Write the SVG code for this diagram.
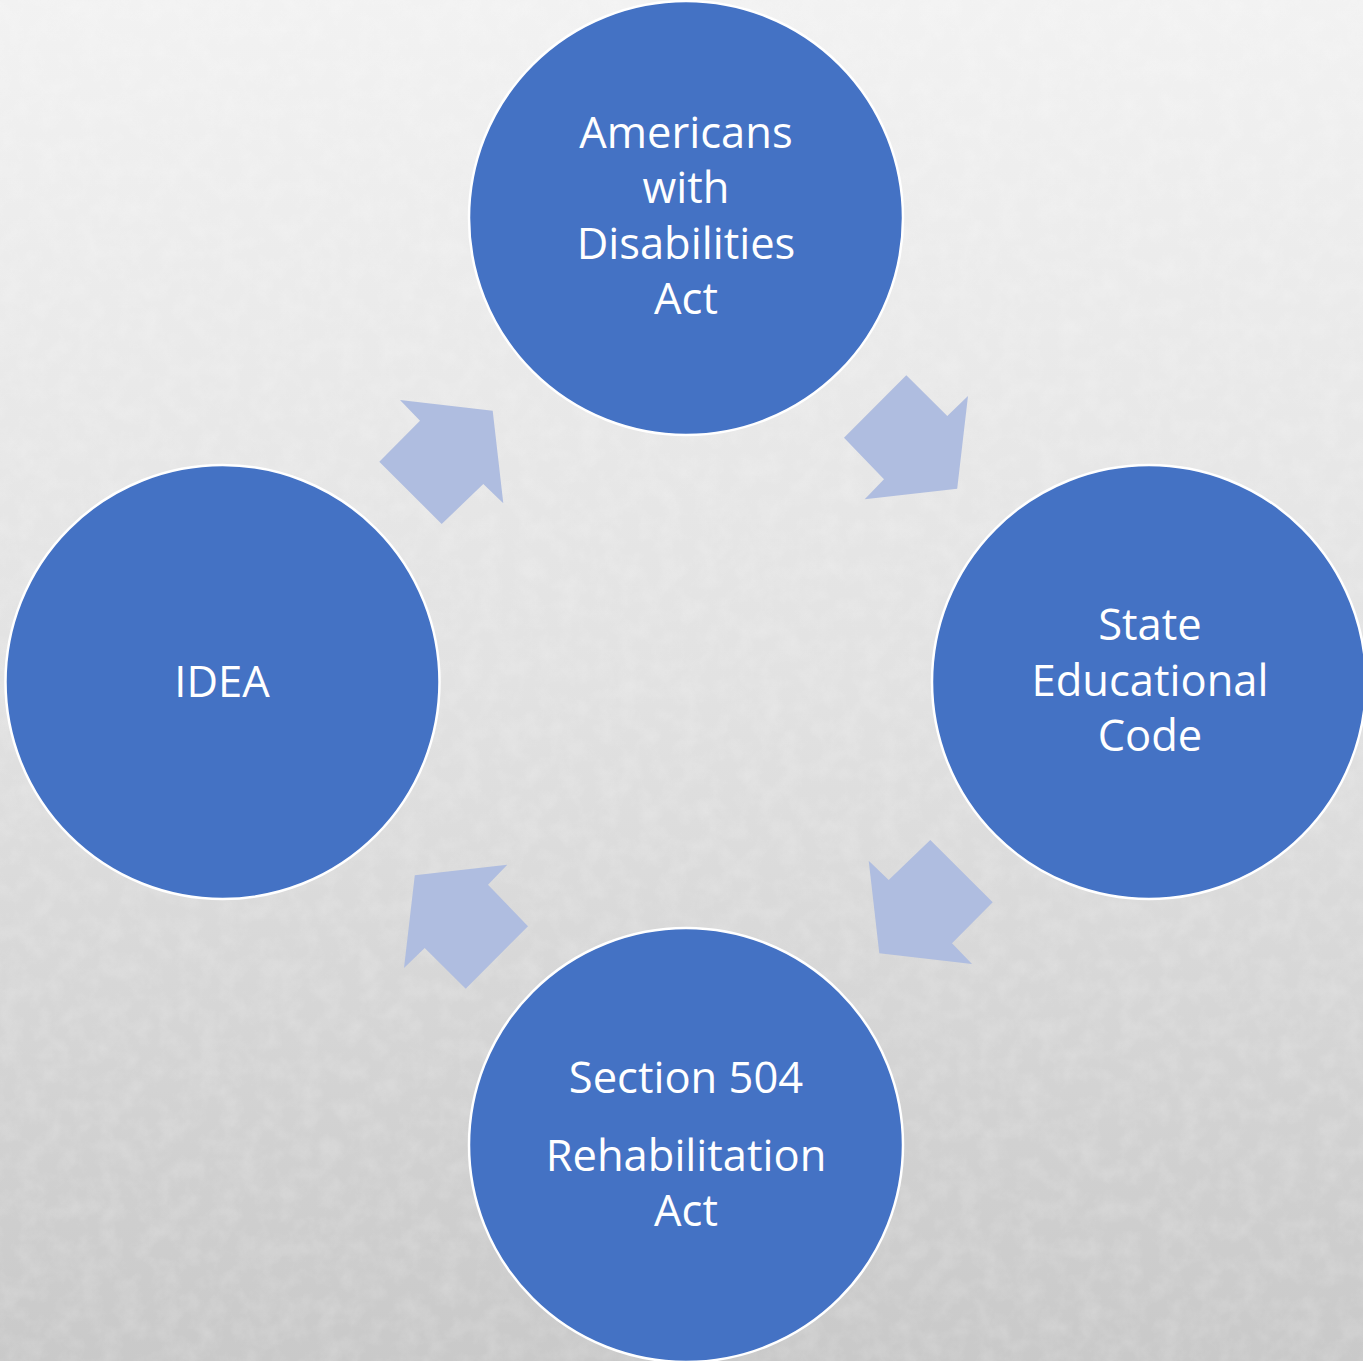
<svg xmlns="http://www.w3.org/2000/svg" width="1363" height="1361" viewBox="0 0 1363 1361">
  <defs>
    <linearGradient id="bg" x1="0" y1="0" x2="0" y2="1">
      <stop offset="0" stop-color="#f2f2f2"/>
      <stop offset="0.5" stop-color="#e2e2e2"/>
      <stop offset="1" stop-color="#c9c9c9"/>
    </linearGradient>
    <filter id="grain" x="0" y="0" width="100%" height="100%">
      <feTurbulence type="fractalNoise" baseFrequency="0.05" numOctaves="4" seed="7" result="n"/>
      <feColorMatrix in="n" type="matrix" values="0 0 0 0 1  0 0 0 0 1  0 0 0 0 1  0 0 0 -1.2 0.75"/>
    </filter>
    <!-- one cycle arrow, pointing up-right; the others are rotated copies -->
    <polygon id="cycleArrow" points="400,400 492.7,410.8 503.3,503.3 483.3,484 441.7,524 379.3,461.7 420,420.7"/>
    <style>
      .node circle { fill: #4472c4; stroke: #ffffff; stroke-width: 2.5; }
      .node text { fill: #ffffff; font-family: "Open Sans", "Noto Sans", sans-serif; font-size: 43.5px; text-anchor: middle; }
      .arrow { fill: #afbde0; }
    </style>
  </defs>

  <!-- textured paper background -->
  <rect width="1363" height="1361" fill="url(#bg)"/>
  <rect width="1363" height="1361" filter="url(#grain)" opacity="0.25"/>

  <!-- connectors -->
  <g id="connectors">
    <use href="#cycleArrow" class="arrow"/>
    <use href="#cycleArrow" class="arrow" transform="rotate(90 686 682)"/>
    <use href="#cycleArrow" class="arrow" transform="rotate(180 686 682)"/>
    <use href="#cycleArrow" class="arrow" transform="rotate(270 686 682)"/>
  </g>

  <g id="node-ada" class="node">
    <circle cx="686" cy="218" r="217"/>
    <text x="686" y="148">Americans</text>
    <text x="686" y="203">with</text>
    <text x="686" y="259">Disabilities</text>
    <text x="686" y="314">Act</text>
  </g>

  <g id="node-state" class="node">
    <circle cx="1149" cy="682" r="217"/>
    <text x="1150" y="640">State</text>
    <text x="1150" y="696">Educational</text>
    <text x="1150" y="751">Code</text>
  </g>

  <g id="node-504" class="node">
    <circle cx="686" cy="1145" r="217"/>
    <text x="686" y="1093">Section 504</text>
    <text x="686" y="1171">Rehabilitation</text>
    <text x="686" y="1226">Act</text>
  </g>

  <g id="node-idea" class="node">
    <circle cx="222.5" cy="682" r="217"/>
    <text x="222" y="697">IDEA</text>
  </g>
</svg>
